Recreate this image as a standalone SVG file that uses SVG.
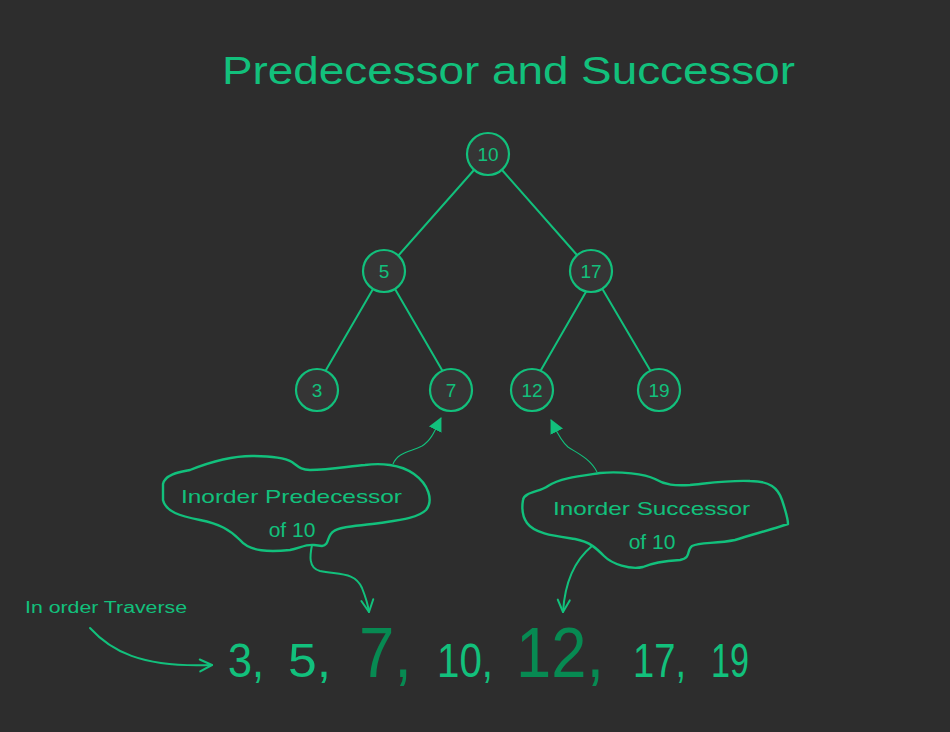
<svg xmlns="http://www.w3.org/2000/svg" width="950" height="732" viewBox="0 0 950 732">
<defs>
<style>
.bg{fill:#2d2d2d}
.node circle{fill:#353535;stroke:#12c07c;stroke-width:2.2}
.node text{fill:#12c07c;font-family:"Liberation Sans",Arial,sans-serif;font-size:19px;text-anchor:middle}
.edge{stroke:#12c07c;stroke-width:2;fill:none;stroke-linecap:round}
.thin{stroke:#12c07c;stroke-width:1.1;fill:none}
.thick{stroke:#12c07c;stroke-width:2;fill:none;stroke-linecap:round}
.cloud{stroke:#12c07c;stroke-width:2.4;fill:none;stroke-linejoin:round}
.lbl{fill:#12c07c;font-family:"Liberation Sans",Arial,sans-serif}
.seq{fill:#12c07c;font-family:"Liberation Sans",Arial,sans-serif;font-size:48px}
.seqd{fill:#078a52;font-family:"Liberation Sans",Arial,sans-serif;font-size:70px}
</style>
<marker id="tri" viewBox="0 0 14 14" refX="13" refY="7" markerWidth="14" markerHeight="14" markerUnits="userSpaceOnUse" orient="auto">
<path d="M0,0 L14,7 L0,14 z" fill="#12c07c"/>
</marker>
<marker id="vee" viewBox="-1 -1 16 16" refX="13" refY="7" markerWidth="16" markerHeight="16" markerUnits="userSpaceOnUse" orient="auto">
<path d="M1,1 L13,7 L1,13" fill="none" stroke="#12c07c" stroke-width="2" stroke-linecap="round" stroke-linejoin="round"/>
</marker>
</defs>
<rect class="bg" x="0" y="0" width="950" height="732"/>

<text id="title" class="lbl" x="222" y="84" font-size="38" textLength="573" lengthAdjust="spacingAndGlyphs">Predecessor and Successor</text>

<g id="connectors">
<line class="edge" x1="474" y1="170" x2="398" y2="256"/>
<line class="edge" x1="502" y1="170" x2="577" y2="255"/>
<line class="edge" x1="373" y1="289" x2="326" y2="370"/>
<line class="edge" x1="395" y1="289" x2="442" y2="370"/>
<line class="edge" x1="587" y1="290" x2="541" y2="370"/>
<line class="edge" x1="603" y1="290" x2="650" y2="370"/>
<path class="thin" d="M393,464 C398,452 410,452 422,446 C432,440 436,428 441,418" marker-end="url(#tri)"/>
<path class="thin" d="M597,472 C590,458 575,452 568,447 C560,440 556,430 551,420" marker-end="url(#tri)"/>
<path class="thick" d="M312,545 C310,555 308,568 320,571 C340,575 355,572 362,588 C366,598 368,605 369,612" marker-end="url(#vee)"/>
<path class="thick" d="M592,546 C575,560 565,580 563,612" marker-end="url(#vee)"/>
<path class="thick" d="M90,628 C110,650 140,668 212,665" marker-end="url(#vee)"/>
</g>

<g id="n10" class="node"><circle cx="488" cy="154" r="21"/><text x="488" y="161">10</text></g>
<g id="n5" class="node"><circle cx="384" cy="271" r="21"/><text x="384" y="278">5</text></g>
<g id="n17" class="node"><circle cx="591" cy="271" r="21"/><text x="591" y="278">17</text></g>
<g id="n3" class="node"><circle cx="317" cy="390" r="21"/><text x="317" y="397">3</text></g>
<g id="n7" class="node"><circle cx="451" cy="390" r="21"/><text x="451" y="397">7</text></g>
<g id="n12" class="node"><circle cx="532" cy="390" r="21"/><text x="532" y="397">12</text></g>
<g id="n19" class="node"><circle cx="659" cy="390" r="21"/><text x="659" y="397">19</text></g>

<g id="pred">
<path class="cloud" d="M163,484 C165,474 180,472 190,470 C210,462 230,456 252,456 C270,456 285,458 292,462 C298,466 300,470 310,470 C330,470 350,466 365,465 C380,463 400,464 414,474 C428,484 434,500 426,510 C418,518 400,520 380,523 C360,526 340,526 334,531 C326,536 330,545 322,546 L314,545 C306,544 300,548 290,550 C270,552 250,552 240,540 C230,530 220,524 200,520 C180,516 166,512 163,500 Z"/>
<text class="lbl" x="181" y="503" font-size="19" textLength="221" lengthAdjust="spacingAndGlyphs">Inorder Predecessor</text>
<text class="lbl" x="292" y="537" font-size="21" text-anchor="middle">of 10</text>
</g>

<g id="succ">
<path class="cloud" d="M523,500 C524,492 540,492 548,486 C560,478 580,476 600,473 C620,471 645,474 655,479 C665,485 675,486 690,485 C710,483 730,480 750,481 C770,481 778,488 782,500 C786,512 788,520 788,524 C770,530 750,535 735,540 C715,544 700,542 692,546 C686,550 692,558 680,560 C665,561 652,563 643,567 C630,570 612,564 604,556 C596,548 590,542 575,539 C555,536 535,534 527,523 C522,516 522,506 523,500 Z"/>
<text class="lbl" x="553" y="515" font-size="19" textLength="197" lengthAdjust="spacingAndGlyphs">Inorder Successor</text>
<text class="lbl" x="652" y="549" font-size="21" text-anchor="middle">of 10</text>
</g>

<text id="trav" class="lbl" x="25" y="613" font-size="16" textLength="162" lengthAdjust="spacingAndGlyphs">In order Traverse</text>

<g id="sequence">
<text class="seq" x="228" y="677" textLength="36" lengthAdjust="spacingAndGlyphs">3,</text>
<text class="seq" x="288" y="677" textLength="43" lengthAdjust="spacingAndGlyphs">5,</text>
<text class="seqd" x="359" y="677" textLength="53" lengthAdjust="spacingAndGlyphs">7,</text>
<text class="seq" x="437" y="677" textLength="56" lengthAdjust="spacingAndGlyphs">10,</text>
<text class="seqd" x="516" y="677" textLength="88" lengthAdjust="spacingAndGlyphs">12,</text>
<text class="seq" x="633" y="677" textLength="53" lengthAdjust="spacingAndGlyphs">17,</text>
<text class="seq" x="711" y="677" textLength="38" lengthAdjust="spacingAndGlyphs">19</text>
</g>
</svg>
